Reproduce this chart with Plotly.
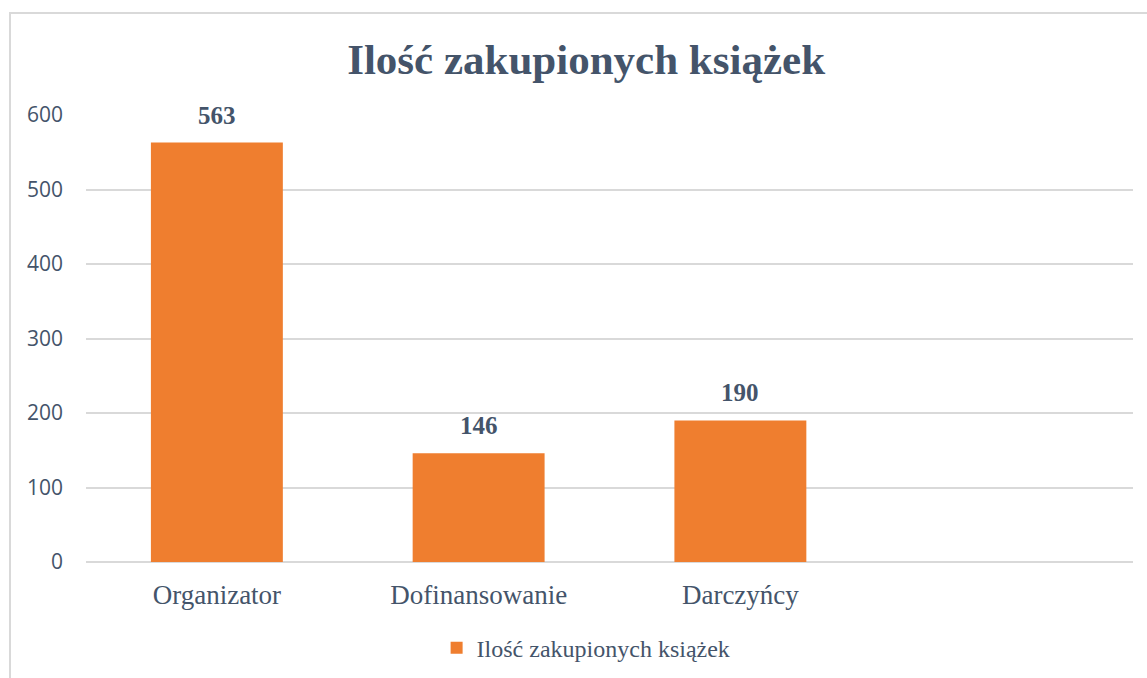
import plotly.graph_objects as go

categories = ["Organizator", "Dofinansowanie", "Darczyńcy"]
values = [563, 146, 190]
series_name = "Ilość zakupionych książek"
title_text = "Ilość zakupionych książek"
y_ticks = [0, 100, 200, 300, 400, 500, 600]

SLATE = "#44546A"
ORANGE = "#EF7E2F"
GRID = "#D9D9D9"
SERIF = "Liberation Serif, Times New Roman, serif"

fig = go.Figure()
fig.add_trace(go.Bar(
    x=categories, y=values, name=series_name,
    marker=dict(color=ORANGE, line=dict(width=0)),
    width=0.504, showlegend=True,
))

for c, v in zip(categories, values):
    fig.add_annotation(x=c, y=v, text=f"<b>{v}</b>", showarrow=False,
                       yanchor="bottom", yshift=12,
                       font=dict(family=SERIF, size=25, color=SLATE))

# outer chart border
fig.add_shape(type="rect", xref="paper", yref="paper",
              x0=-0.0726, x1=1.03, y0=-0.35, y1=1.228,
              line=dict(color=GRID, width=2), fillcolor="rgba(0,0,0,0)", layer="below")

fig.update_layout(
    width=1147, height=678,
    margin=dict(l=86, r=14, t=115, b=116, autoexpand=False),
    paper_bgcolor="white", plot_bgcolor="white",
    title=dict(text=f"<b>{title_text}</b>", x=0.511, xanchor="center",
               y=0.913, yanchor="middle",
               font=dict(family=SERIF, size=43, color=SLATE)),
    xaxis=dict(type="category", categoryorder="array", categoryarray=categories,
               range=[-0.5, 3.5], showgrid=False, zeroline=False, showline=False,
               ticks="", tickfont=dict(family=SERIF, size=27, color=SLATE),
               ticklabelstandoff=14),
    yaxis=dict(range=[0, 600], tickvals=y_ticks, showgrid=True, gridcolor=GRID,
               gridwidth=1.5, zeroline=True, zerolinecolor=GRID, zerolinewidth=1.5,
               showline=False, ticks="", ticklabelstandoff=22,
               tickfont=dict(family="Open Sans", size=21, color=SLATE)),
    legend=dict(orientation="h", xref="container", yref="container",
                x=0.511, xanchor="center", y=0.044, yanchor="middle",
                font=dict(family=SERIF, size=24, color=SLATE),
                itemwidth=30),
    bargap=0.5,
)

fig.write_html("out.html")
